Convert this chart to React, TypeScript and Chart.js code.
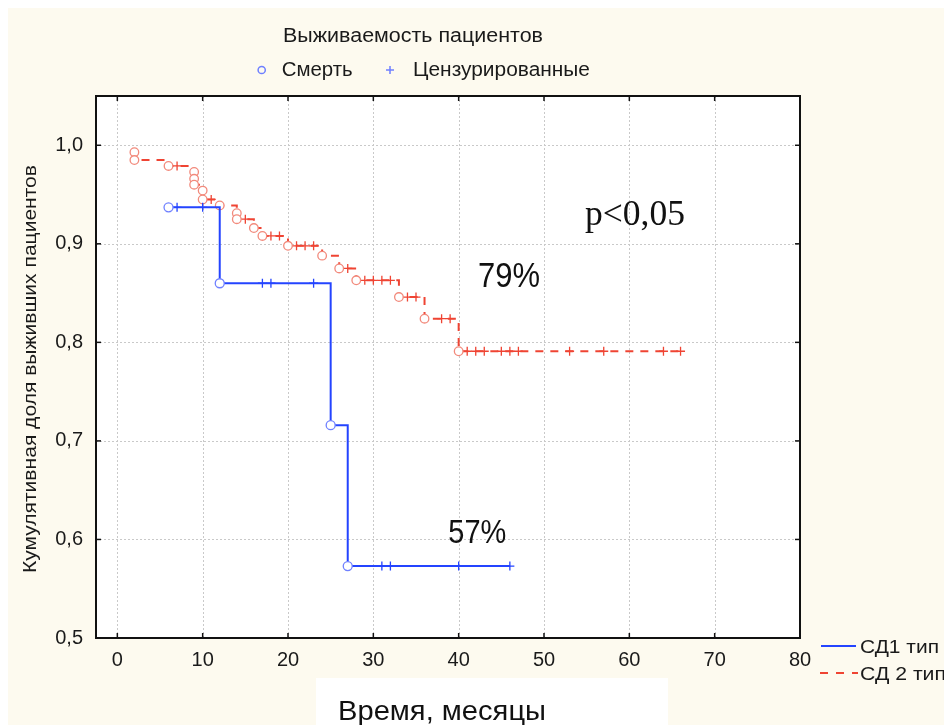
import React, { useEffect, useRef } from 'react';
import { Chart, registerables } from 'chart.js';

Chart.register(...registerables);

// ---- data ----
const xTicks = [0, 10, 20, 30, 40, 50, 60, 70, 80];
const yTicks = [0.5, 0.6, 0.7, 0.8, 0.9, 1.0];

// СД1 тип: death times and survival after each death
const sd1DeathTimes = [6, 12, 25, 27];
const sd1Survival = [0.937, 0.86, 0.716, 0.573];
const sd1CensoredTimes = [7, 10, 17, 18, 23, 31, 32, 40, 46];

// СД 2 тип
const sd2DeathTimes = [2, 2, 6, 9, 9, 9, 10, 10, 12, 14, 14, 16, 17, 20, 24, 26, 28, 33, 36, 40];
const sd2Survival = [0.993, 0.985, 0.979, 0.973, 0.966, 0.96, 0.954, 0.945, 0.939, 0.931, 0.925, 0.916, 0.908, 0.898, 0.888, 0.875, 0.863, 0.846, 0.824, 0.791];
const sd2CensoredTimes = [7, 11, 15, 18, 19, 21, 22, 23, 27, 29, 30, 31, 32, 34, 35, 38, 39, 41, 42, 43, 45, 46, 47, 53, 57, 64, 66];

const seriesNames = ['СД1 тип', 'СД 2 тип'];
const chartTitle = 'Выживаемость пациентов';
const legendDeath = 'Смерть';
const legendCensored = 'Цензурированные';
const yTitle = 'Кумулятивная доля выживших пациентов';
const xTitle = 'Время, месяцы';
const pText = 'p<0,05';
const sd2Final = '79%';
const sd1Final = '57%';

// ---- helpers ----
function survivalAt(times: number[], surv: number[], t: number) {
  let v = surv[0];
  for (let i = 0; i < times.length; i++) if (times[i] <= t) v = surv[i];
  return v;
}
function curvePoints(times: number[], surv: number[], cens: number[]) {
  const pts = times.map((t, i) => ({ x: t, y: surv[i] }));
  const last = cens[cens.length - 1];
  pts.push({ x: last, y: survivalAt(times, surv, last) });
  return pts;
}
function censPoints(times: number[], surv: number[], cens: number[]) {
  return cens.map((t) => ({ x: t, y: survivalAt(times, surv, t) }));
}

const BLUE = '#2444ff';
const BLUE_PT = '#6f80ff';
const RED = '#ef4433';
const RED_PT = '#f28a7c';
const CREAM = '#fdfaef';
const TXT = '#1a1a1a';
const SANS = '"Liberation Sans", Arial, sans-serif';
const SERIF = '"Liberation Serif", "Times New Roman", serif';

function fitText(ctx: CanvasRenderingContext2D, text: string, x: number, y: number, w: number, font: string, color: string, baseline: CanvasTextBaseline = 'middle') {
  ctx.save();
  ctx.font = font;
  ctx.fillStyle = color;
  ctx.textBaseline = baseline;
  ctx.textAlign = 'left';
  const m = ctx.measureText(text).width;
  ctx.translate(x, y);
  ctx.scale(w / m, 1);
  ctx.fillText(text, 0, 0);
  ctx.restore();
}

const decorPlugin = {
  id: 'decor',
  beforeDraw(chart: any) {
    const { ctx, chartArea: a, width, height } = chart;
    ctx.save();
    ctx.fillStyle = CREAM;
    ctx.fillRect(0, 0, width, height);
    ctx.fillStyle = '#ffffff';
    ctx.fillRect(308, 670, 352, height - 670);
    ctx.fillRect(a.left, a.top, a.right - a.left, a.bottom - a.top);
    ctx.restore();
  },
  beforeDatasetsDraw(chart: any) {
    const { ctx, chartArea: a, scales } = chart;
    const xs = scales.x, ys = scales.y;
    ctx.save();
    ctx.strokeStyle = '#c9c9c9';
    ctx.lineWidth = 1;
    ctx.setLineDash([2, 2]);
    xTicks.forEach((v) => {
      const px = Math.round(xs.getPixelForValue(v)) + 0.5;
      ctx.beginPath(); ctx.moveTo(px, a.top); ctx.lineTo(px, a.bottom); ctx.stroke();
    });
    yTicks.forEach((v) => {
      const py = Math.round(ys.getPixelForValue(v)) + 0.5;
      ctx.beginPath(); ctx.moveTo(a.left, py); ctx.lineTo(a.right, py); ctx.stroke();
    });
    ctx.restore();
  },
  afterDatasetsDraw(chart: any) {
    const { ctx, chartArea: a, scales } = chart;
    const xs = scales.x, ys = scales.y;
    ctx.save();
    // border
    ctx.strokeStyle = '#111';
    ctx.lineWidth = 2;
    ctx.setLineDash([]);
    ctx.strokeRect(a.left, a.top, a.right - a.left, a.bottom - a.top);
    // inward ticks
    ctx.lineWidth = 1.5;
    xTicks.forEach((v) => {
      const px = xs.getPixelForValue(v);
      ctx.beginPath(); ctx.moveTo(px, a.bottom); ctx.lineTo(px, a.bottom - 5); ctx.stroke();
      ctx.beginPath(); ctx.moveTo(px, a.top); ctx.lineTo(px, a.top + 5); ctx.stroke();
    });
    yTicks.forEach((v) => {
      const py = ys.getPixelForValue(v);
      ctx.beginPath(); ctx.moveTo(a.left, py); ctx.lineTo(a.left + 5, py); ctx.stroke();
      ctx.beginPath(); ctx.moveTo(a.right, py); ctx.lineTo(a.right - 5, py); ctx.stroke();
    });
    ctx.restore();

    // title + marker legend
    fitText(ctx, chartTitle, 275, 28, 260, `20px ${SANS}`, TXT);
    ctx.save();
    ctx.strokeStyle = BLUE_PT;
    ctx.lineWidth = 1.5;
    ctx.beginPath(); ctx.arc(253.7, 62, 3.6, 0, Math.PI * 2); ctx.stroke();
    ctx.beginPath(); ctx.moveTo(378, 62); ctx.lineTo(386, 62); ctx.moveTo(382, 58); ctx.lineTo(382, 66); ctx.stroke();
    ctx.restore();
    fitText(ctx, legendDeath, 273.7, 62, 71, `20px ${SANS}`, TXT);
    fitText(ctx, legendCensored, 405, 62, 177, `20px ${SANS}`, TXT);

    // y title
    ctx.save();
    ctx.font = `19px ${SANS}`;
    ctx.fillStyle = TXT;
    ctx.textAlign = 'center';
    ctx.textBaseline = 'middle';
    const m = ctx.measureText(yTitle).width;
    ctx.translate(23, 361);
    ctx.rotate(-Math.PI / 2);
    ctx.scale(408 / m, 1);
    ctx.fillText(yTitle, 0, 0);
    ctx.restore();

    // annotations
    fitText(ctx, pText, 577, 217, 100, `35px ${SERIF}`, '#111', 'alphabetic');
    fitText(ctx, sd2Final, 470, 279, 62, `35px ${SANS}`, '#111', 'alphabetic');
    fitText(ctx, sd1Final, 440.3, 534.7, 58, `33px ${SANS}`, '#111', 'alphabetic');

    // series legend
    ctx.save();
    ctx.strokeStyle = BLUE; ctx.lineWidth = 2;
    ctx.beginPath(); ctx.moveTo(813, 638); ctx.lineTo(848, 638); ctx.stroke();
    ctx.strokeStyle = RED; ctx.setLineDash([8, 8]);
    ctx.beginPath(); ctx.moveTo(812, 665); ctx.lineTo(850, 665); ctx.stroke();
    ctx.restore();
    fitText(ctx, seriesNames[0], 852, 640, 79, `18px ${SANS}`, TXT);
    fitText(ctx, seriesNames[1], 852, 667, 86, `18px ${SANS}`, TXT);

    // x title
    fitText(ctx, xTitle, 330, 712, 208, `28px ${SANS}`, '#111', 'alphabetic');
  },
};

export default function App() {
  const ref = useRef<HTMLCanvasElement | null>(null);
  useEffect(() => {
    document.body.style.overflow = 'hidden';
    const canvas = ref.current!;
    const sd1Curve = curvePoints(sd1DeathTimes, sd1Survival, sd1CensoredTimes);
    const sd2Curve = curvePoints(sd2DeathTimes, sd2Survival, sd2CensoredTimes);
    const chart = new Chart(canvas, {
      type: 'scatter',
      data: {
        datasets: [
          {
            label: seriesNames[1] + ' cens',
            data: censPoints(sd2DeathTimes, sd2Survival, sd2CensoredTimes),
            showLine: false,
            pointStyle: 'cross',
            pointRadius: 4.5,
            borderColor: RED,
            pointBorderColor: RED,
            pointBorderWidth: 1.3,
            order: 2,
          },
          {
            label: seriesNames[1],
            data: sd2Curve,
            showLine: true,
            stepped: 'before',
            borderColor: RED,
            borderWidth: 2,
            borderDash: [8, 7],
            pointStyle: 'circle',
            pointRadius: sd2Curve.map((_, i) => (i < sd2DeathTimes.length ? 4.3 : 0)),
            pointBackgroundColor: '#ffffff',
            pointBorderColor: RED_PT,
            pointBorderWidth: 1.3,
            order: 1,
          },
          {
            label: seriesNames[0] + ' cens',
            data: censPoints(sd1DeathTimes, sd1Survival, sd1CensoredTimes),
            showLine: false,
            pointStyle: 'cross',
            pointRadius: 4.5,
            borderColor: BLUE,
            pointBorderColor: BLUE,
            pointBorderWidth: 1.3,
            order: 0,
          },
          {
            label: seriesNames[0],
            data: sd1Curve,
            showLine: true,
            stepped: 'before',
            borderColor: BLUE,
            borderWidth: 2,
            pointStyle: 'circle',
            pointRadius: sd1Curve.map((_, i) => (i < sd1DeathTimes.length ? 4.5 : 0)),
            pointBackgroundColor: '#ffffff',
            pointBorderColor: BLUE_PT,
            pointBorderWidth: 1.3,
            order: -1,
          },
        ],
      } as any,
      options: {
        responsive: false,
        animation: false,
        events: [],
        layout: { padding: { left: 0, top: 88, right: 152, bottom: 0 } },
        plugins: { legend: { display: false }, tooltip: { enabled: false }, title: { display: false } },
        scales: {
          x: {
            type: 'linear',
            min: -2.5,
            max: 80,
            grid: { display: false, drawTicks: false },
            border: { display: false },
            afterFit: (s: any) => { s.height = 87; },
            afterBuildTicks: (s: any) => { s.ticks = xTicks.map((v) => ({ value: v })); },
            ticks: {
              padding: 10,
              color: TXT,
              font: { family: SANS, size: 20 },
              callback: (v: any) => String(v),
            },
          },
          y: {
            type: 'linear',
            min: 0.5,
            max: 1.05,
            grid: { display: false, drawTicks: false },
            border: { display: false },
            afterFit: (s: any) => { s.width = 88; },
            afterBuildTicks: (s: any) => { s.ticks = yTicks.map((v) => ({ value: v })); },
            ticks: {
              padding: 13,
              color: TXT,
              font: { family: SANS, size: 20 },
              callback: (v: any) => Number(v).toFixed(1).replace('.', ','),
            },
          },
        },
      } as any,
      plugins: [decorPlugin],
    });
    return () => chart.destroy();
  }, []);
  return <canvas ref={ref} width={944} height={717} style={{ display: 'block' }} />;
}
